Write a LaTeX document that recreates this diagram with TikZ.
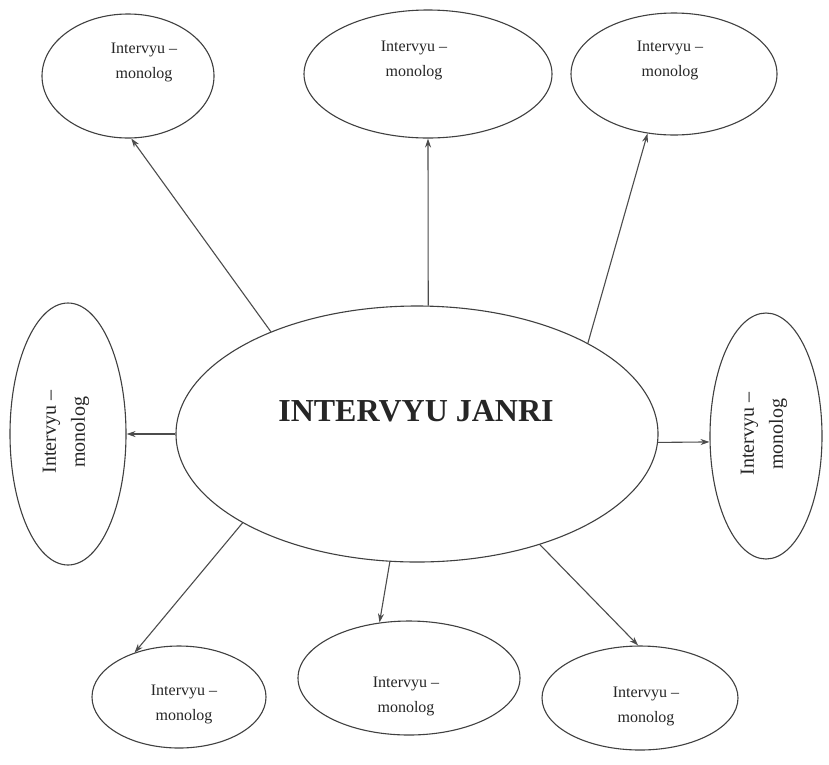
\documentclass[tikz,border=0pt]{standalone}
\usepackage{fontspec}
\setmainfont{Liberation Serif}
\usetikzlibrary{shapes.geometric,arrows.meta}
\begin{document}
\begin{tikzpicture}[x=1pt,y=-1pt,
  ell/.style={draw=black!75,line width=1.1pt,ellipse,inner sep=0pt},
  lbl/.style={font=\fontsize{16}{25}\selectfont,align=center,text=black!85},
  vlbl/.style={font=\fontsize{20}{29}\selectfont,align=center,text=black!85,rotate=90},
  arr/.style={draw=black!70,line width=1.1pt,-{Stealth[length=9pt,width=6pt]}}]
\fill[white] (0,0) rectangle (829,764);
\useasboundingbox (0,0) rectangle (829,764);
% central
\node[ell,minimum width=482pt,minimum height=256pt] (c) at (417,434) {};
\node[font=\bfseries\fontsize{32}{34}\selectfont,text=black!85] (ct) at (416,411) {INTERVYU JANRI};
% top
\node[ell,minimum width=172pt,minimum height=124pt] (tl) at (128,76) {};
\node[lbl] (tlt) at (144,62) {Intervyu --\\monolog};
\node[ell,minimum width=248pt,minimum height=128pt] (tm) at (428,74) {};
\node[lbl] (tmt) at (414,60) {Intervyu --\\monolog};
\node[ell,minimum width=206pt,minimum height=122pt] (tr) at (674,74) {};
\node[lbl] (trt) at (670,60) {Intervyu --\\monolog};
% sides
\node[ell,minimum width=116pt,minimum height=262pt] (l) at (68,434) {};
\node[vlbl] (lt) at (66,432) {Intervyu --\\monolog};
\node[ell,minimum width=112pt,minimum height=246pt] (r) at (766,436) {};
\node[vlbl] (rt) at (764,434) {Intervyu --\\monolog};
% bottom
\node[ell,minimum width=174pt,minimum height=102pt] (bl) at (179,697) {};
\node[lbl] (blt) at (184,704) {Intervyu --\\monolog};
\node[ell,minimum width=222pt,minimum height=114pt] (bm) at (409,678) {};
\node[lbl] (bmt) at (406,696) {Intervyu --\\monolog};
\node[ell,minimum width=196pt,minimum height=104pt] (br) at (640,698) {};
\node[lbl] (brt) at (646,706) {Intervyu --\\monolog};
% arrows
\draw[arr] (c.145) -- (tl.273);
\draw[arr] (c.85) -- (tm.270);
\draw[arr] (c.28) -- (tr.246);
\draw[arr] (c.180) -- (l.0);
\draw[arr] (c.358) -- (r.186);
\draw[arr] (c.207) -- (bl.135);
\draw[arr] (c.258) -- (bm.118);
\draw[arr] (c.318) -- (br.92);
\end{tikzpicture}
\end{document}
